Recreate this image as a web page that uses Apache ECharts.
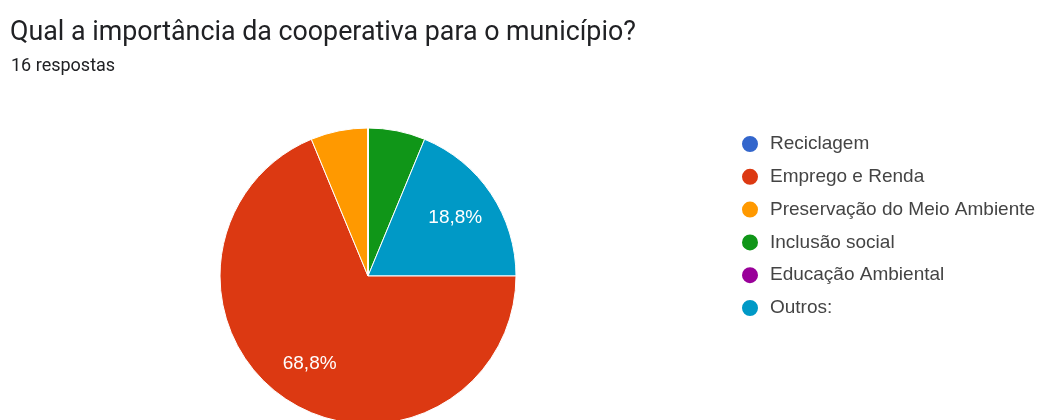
<!DOCTYPE html>
<html>
<head>
<meta charset="utf-8">
<script src="https://cdn.jsdelivr.net/npm/echarts@6/dist/echarts.min.js"></script>
<style>
  html, body { margin: 0; padding: 0; background: #ffffff; }
  #chart { width: 1042px; height: 420px; }
</style>
</head>
<body>
<div id="chart"></div>
<script>
// Survey answers, in legend order
const categories = ['Reciclagem', 'Emprego e Renda', 'Preservação do Meio Ambiente', 'Inclusão social', 'Educação Ambiental', 'Outros:'];
const responses = [0, 11, 1, 1, 0, 3];
const palette = ['#3366cc', '#dc3912', '#ff9900', '#109618', '#990099', '#0099c6'];
// Order in which slices are laid out clockwise from 12 o'clock
const sliceOrder = [3, 5, 1, 2, 0, 4];
const questionTitle = 'Qual a importância da cooperativa para o município?';
const responseCount = '16 respostas';

const total = responses.reduce((a, b) => a + b, 0);
const sliceData = sliceOrder.map(i => ({
  name: categories[i],
  value: responses[i],
  itemStyle: { color: palette[i] }
}));

function pctText(v) {
  const p = Math.round(v / total * 1000) / 10;
  return p.toFixed(1).replace('.', ',') + '%';
}

const chartFont = 'Liberation Sans, Arial, sans-serif';

const chart = echarts.init(document.getElementById('chart'), null, { renderer: 'canvas' });
chart.setOption({
  backgroundColor: '#ffffff',
  animation: false,
  title: [
    {
      text: questionTitle,
      left: 5,
      top: 15,
      textStyle: { fontFamily: 'Roboto', fontSize: 26.8, fontWeight: 'normal', color: '#202124' }
    },
    {
      text: responseCount,
      left: 6,
      top: 52,
      textStyle: { fontFamily: 'Roboto', fontSize: 18, fontWeight: 'normal', color: '#202124' }
    }
  ],
  legend: {
    orient: 'vertical',
    left: 735,
    top: 129,
    icon: 'circle',
    itemWidth: 18,
    itemHeight: 18,
    itemGap: 12.8,
    data: categories,
    selectedMode: false,
    textStyle: { fontFamily: chartFont, fontSize: 19, lineHeight: 18, color: '#444444', padding: [0, 0, 0, 6] }
  },
  series: [
    {
      type: 'pie',
      center: [368, 276],
      radius: [0, 148],
      startAngle: 90,
      clockwise: true,
      avoidLabelOverlap: false,
      silent: true,
      label: { show: false },
      labelLine: { show: false },
      itemStyle: { borderColor: '#ffffff', borderWidth: 1 },
      data: sliceData
    },
    {
      // transparent ring that carries the percentage labels
      type: 'pie',
      center: [368, 276],
      radius: [90, 114],
      startAngle: 90,
      clockwise: true,
      avoidLabelOverlap: false,
      silent: true,
      itemStyle: { color: 'rgba(0,0,0,0)', borderWidth: 0 },
      labelLine: { show: false },
      label: {
        show: true,
        position: 'inside',
        fontFamily: chartFont,
        fontSize: 19,
        color: '#ffffff',
        formatter: p => (p.value / total >= 0.1 ? pctText(p.value) : '')
      },
      data: sliceOrder.map(i => ({ name: categories[i], value: responses[i] }))
    }
  ]
});
</script>
</body>
</html>
